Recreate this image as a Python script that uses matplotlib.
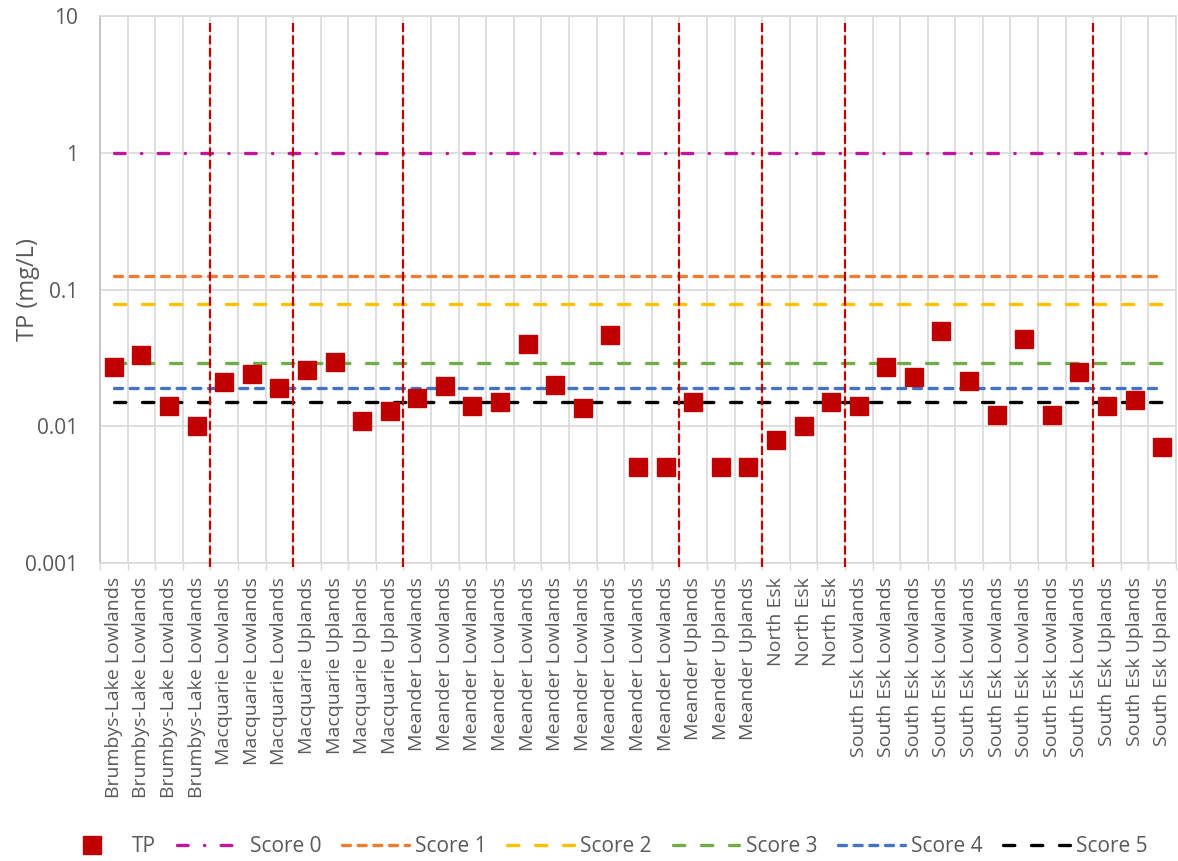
import matplotlib.pyplot as plt
import numpy as np
from matplotlib.ticker import FixedLocator, NullLocator

plt.rcParams['font.family'] = ['Open Sans', 'DejaVu Sans']

# sites, grouped by catchment zone
groups = ['Brumbys-Lake Lowlands', 'Macquarie Lowlands', 'Macquarie Uplands',
          'Meander Lowlands', 'Meander Uplands', 'North Esk',
          'South Esk Lowlands', 'South Esk Uplands']
group_sizes = [4, 3, 4, 10, 3, 3, 9, 3]
sites = [g for g, n in zip(groups, group_sizes) for _ in range(n)]

# total phosphorus (mg/L)
tp = [0.027, 0.033, 0.014, 0.010,
      0.021, 0.0242, 0.0191,
      0.026, 0.0296, 0.011, 0.013,
      0.016, 0.0196, 0.014, 0.015, 0.040, 0.020, 0.0135, 0.0466, 0.005, 0.005,
      0.015, 0.005, 0.005,
      0.008, 0.010, 0.015,
      0.014, 0.027, 0.023, 0.050, 0.0216, 0.012, 0.0435, 0.012, 0.025,
      0.014, 0.0155, 0.007]

score_labels = ['Score 0', 'Score 1', 'Score 2', 'Score 3', 'Score 4', 'Score 5']
score_levels = [1.0, 0.125, 0.078, 0.029, 0.019, 0.015]
score_colors = ['#C0169C', '#ED7D31', '#FFC000', '#70AD47', '#4472C4', '#000000']
score_dashes = [(3.2, 4.9, 0.1, 4.9), (2.4, 2.3), (3.4, 5.0),
                (3.4, 5.0), (2.4, 2.3), (3.4, 5.0)]

text_col = '#595959'
grid_col = '#D9D9D9'

fig = plt.figure(figsize=(11.78, 8.61), dpi=100)
ax = fig.add_axes([0.0849, 0.3461, 0.9134, 0.6353])

x = np.arange(len(sites))
score_handles = []
for label, level, color, dashes in zip(score_labels, score_levels, score_colors, score_dashes):
    h, = ax.plot(x, [level] * len(x), color=color, lw=2.4, dashes=dashes,
                 dash_capstyle='round', label=label, zorder=3)
    score_handles.append(h)

tp_handle, = ax.plot(x, tp, ls='none', marker='s', ms=12.5, color='#C00000',
                     mec='#C00000', label='TP', zorder=5)

# zone boundaries
bounds = np.cumsum(group_sizes)[:-1] - 0.5
for b in bounds:
    ax.axvline(b, ymin=-0.008, ymax=0.99, clip_on=False, color='#C00000',
               lw=1.6, dashes=(4, 1.6), zorder=4)

ax.set_yscale('log')
ax.set_ylim(0.001, 10)
ax.set_xlim(-0.5, len(sites) - 0.5)

yticks = [0.001, 0.01, 0.1, 1, 10]
ax.set_yticks(yticks)
ax.set_yticklabels(['0.001', '0.01', '0.1', '1', '10'])
ax.yaxis.set_minor_locator(NullLocator())

ax.set_xticks(x)
ax.set_xticklabels(sites, rotation=90)
ax.xaxis.set_minor_locator(FixedLocator(np.arange(len(sites) + 1) - 0.5))

ax.tick_params(axis='both', which='major', length=0, labelcolor=text_col)
ax.tick_params(axis='x', which='major', labelsize=14, pad=10)
ax.tick_params(axis='y', which='major', labelsize=15, pad=16)
ax.tick_params(axis='x', which='minor', length=5, color=grid_col, width=1)

ax.grid(axis='y', which='major', color=grid_col, lw=1.2)
ax.grid(axis='x', which='minor', color=grid_col, lw=1.2)
ax.set_axisbelow(True)

for side in ['top', 'right', 'bottom']:
    ax.spines[side].set_color(grid_col)
    ax.spines[side].set_linewidth(1.2)
ax.spines['left'].set_color('#BFBFBF')
ax.spines['left'].set_linewidth(1.2)

ax.set_ylabel('TP (mg/L)', fontsize=17, color=text_col)
ax.yaxis.set_label_coords(-0.0558, 0.5)

fig.legend([tp_handle] + score_handles, ['TP'] + score_labels,
           loc='center', bbox_to_anchor=(0.5123, 1 - 847 / 861), ncol=7,
           frameon=False, handlelength=3.2, handletextpad=0.3,
           columnspacing=1.0, fontsize=15, labelcolor=text_col)

fig.savefig('out.png', dpi=100, facecolor='white')
